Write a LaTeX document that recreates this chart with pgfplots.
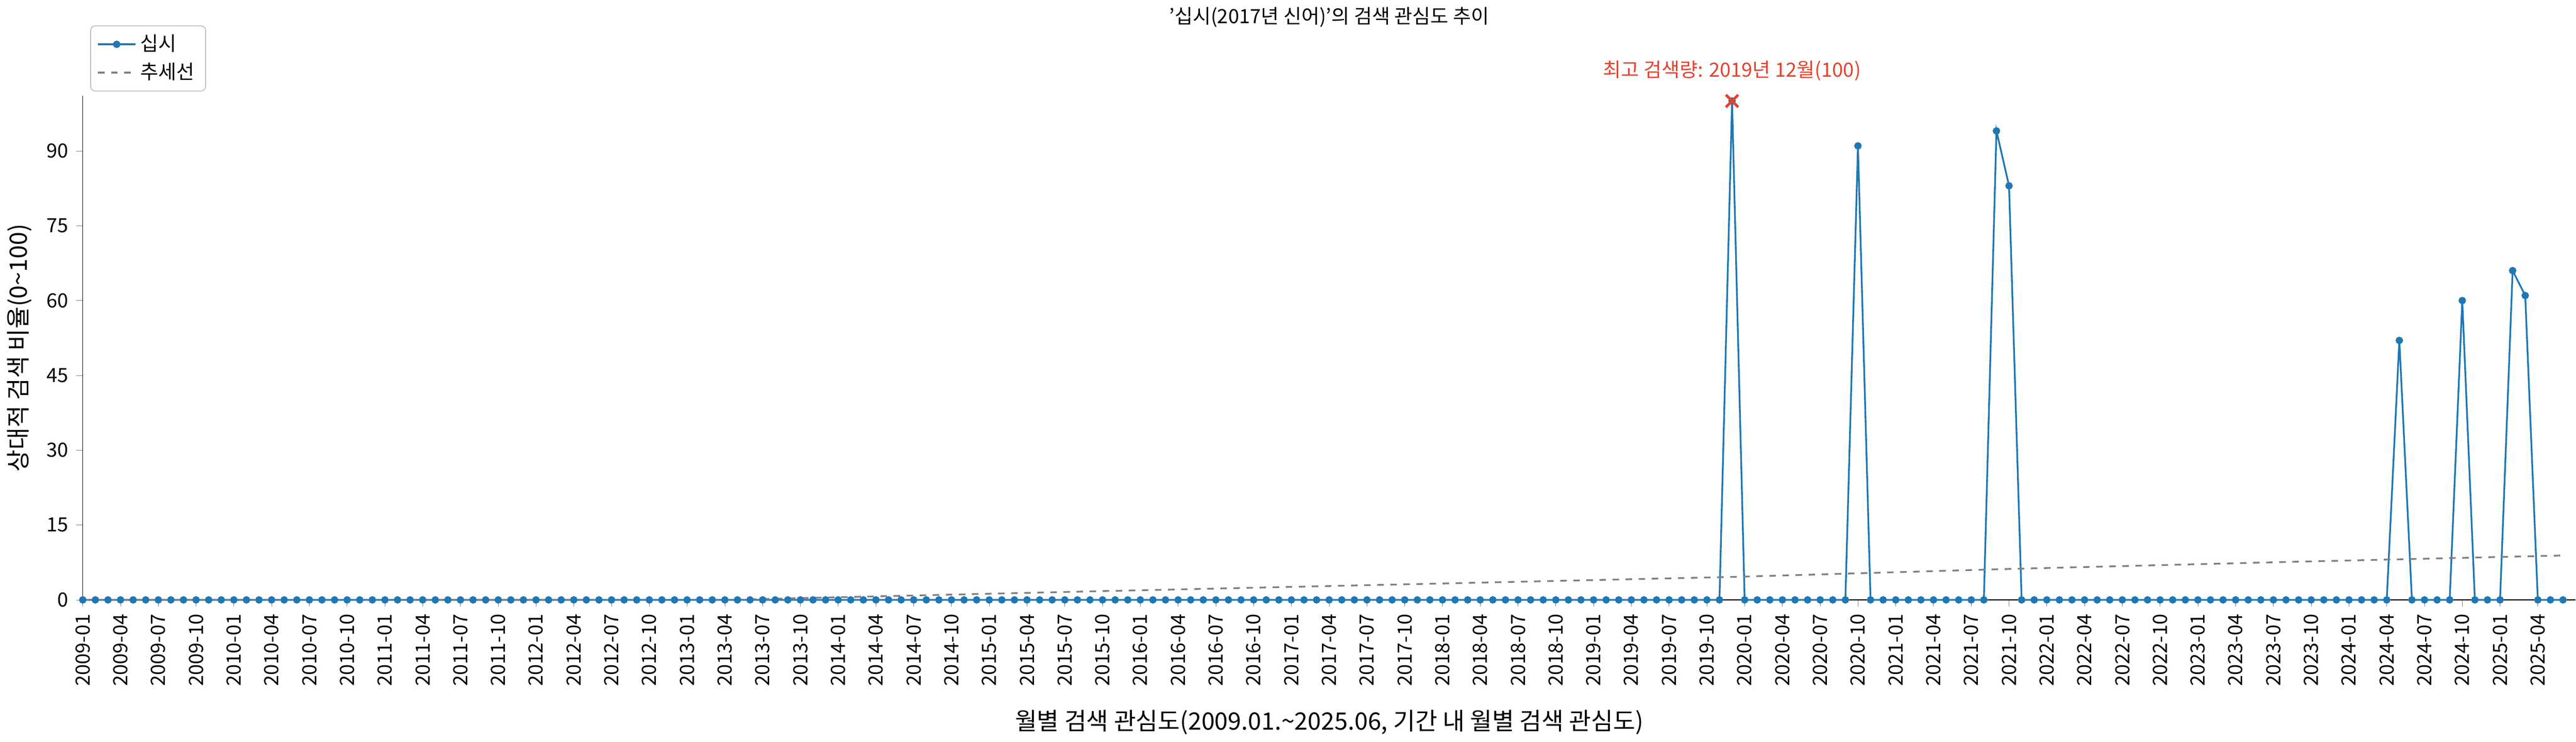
\documentclass[border=0pt]{standalone}
\usepackage{pgfplots}
\pgfplotsset{compat=1.18}
\usepackage{fontspec}
\setmainfont{Noto Sans CJK KR}
\definecolor{c1}{HTML}{1F77B4}
\definecolor{pk}{HTML}{E8412C}
\begin{document}
\begin{tikzpicture}
\begin{axis}[
  width=40.2cm, height=8.13cm, scale only axis,
  xmin=0, xmax=198, ymin=0, ymax=101,
  axis x line*=bottom, axis y line*=left,
  xtick={0,3,...,195},
  xticklabel={\pgfmathtruncatemacro\yr{2009+floor(\tick/12)}\pgfmathtruncatemacro\mo{mod(\tick,12)+1}\yr-\ifnum\mo<10 0\fi\mo},
  xticklabel style={rotate=90, anchor=east, font=\fontsize{9}{10}\selectfont},
  ytick={0,15,30,45,60,75,90},
  yticklabel style={font=\fontsize{9}{10}\selectfont},
  /pgf/number format/assume math mode=true,
  tick align=outside, major tick length=3pt,
  xlabel={월별 검색 관심도(2009.01.\textasciitilde 2025.06, 기간 내 월별 검색 관심도)},
  ylabel={상대적 검색 비율(0\textasciitilde 100)},
  label style={font=\fontsize{11}{12}\selectfont},
  xlabel style={yshift=-4pt},
  title={'십시(2017년 신어)'의 검색 관심도 추이},
  title style={font=\fontsize{9}{10}\selectfont, yshift=22pt},
  legend style={at={(0.003,1.14)}, anchor=north west, font=\fontsize{9}{10}\selectfont, draw=gray!50, rounded corners=2pt},
  legend cell align=left,
  clip=false,
]
\addplot[c1, thick, mark=*, mark size=1.3pt] table[row sep=\\, x expr=\coordindex, y index=0] {y\\
0\\0\\0\\0\\0\\0\\0\\0\\0\\0\\0\\0\\0\\0\\0\\0\\0\\0\\0\\0\\
0\\0\\0\\0\\0\\0\\0\\0\\0\\0\\0\\0\\0\\0\\0\\0\\0\\0\\0\\0\\
0\\0\\0\\0\\0\\0\\0\\0\\0\\0\\0\\0\\0\\0\\0\\0\\0\\0\\0\\0\\
0\\0\\0\\0\\0\\0\\0\\0\\0\\0\\0\\0\\0\\0\\0\\0\\0\\0\\0\\0\\
0\\0\\0\\0\\0\\0\\0\\0\\0\\0\\0\\0\\0\\0\\0\\0\\0\\0\\0\\0\\
0\\0\\0\\0\\0\\0\\0\\0\\0\\0\\0\\0\\0\\0\\0\\0\\0\\0\\0\\0\\
0\\0\\0\\0\\0\\0\\0\\0\\0\\0\\
0\\100\\0\\0\\0\\0\\0\\0\\0\\0\\
0\\91\\0\\0\\0\\0\\0\\0\\0\\0\\
0\\0\\94\\83\\0\\0\\0\\0\\0\\0\\
0\\0\\0\\0\\0\\0\\0\\0\\0\\0\\
0\\0\\0\\0\\0\\0\\0\\0\\0\\0\\
0\\0\\0\\0\\52\\0\\0\\0\\0\\60\\
0\\0\\0\\66\\61\\0\\0\\0\\
};
\addlegendentry{십시}
\addplot[gray, thick, dashed] coordinates {(0,0)(51,0)(80,1.7)(110,3.4)(131,4.6)(153,6.2)(175,7.6)(197,8.9)};
\addlegendentry{추세선}
\addplot[pk, very thick, mark=x, mark size=4pt, only marks, forget plot] coordinates {(131,100)};
\node[pk, font=\fontsize{9}{10}\selectfont, anchor=south] at (axis cs:131,102.5) {최고 검색량: 2019년 12월(100)};
\end{axis}
\end{tikzpicture}
\end{document}
